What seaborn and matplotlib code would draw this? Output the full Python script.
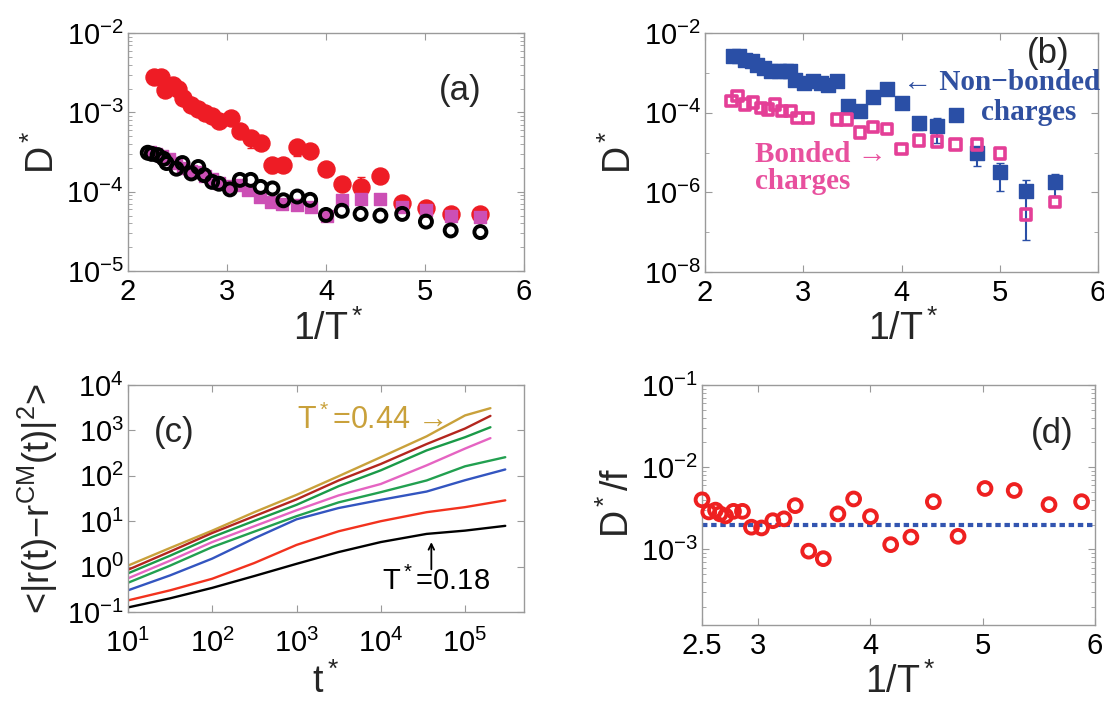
import numpy as np
import pandas as pd
import matplotlib
matplotlib.use("Agg")
import matplotlib.pyplot as plt
import seaborn as sns
from matplotlib.ticker import FixedLocator, NullFormatter, LogFormatterSciNotation, LogLocator

# ---- panel (a): D* vs 1/T* ----
a_x_red = [2.26, 2.33, 2.37, 2.45, 2.51, 2.56, 2.64, 2.71, 2.78, 2.85, 2.92, 3.04, 3.13, 3.24,
           3.34, 3.46, 3.57, 3.71, 3.84, 4.00, 4.16, 4.35, 4.55, 4.77, 5.01, 5.26, 5.56]
a_y_red = [2.8e-3, 2.8e-3, 1.9e-3, 2.2e-3, 1.96e-3, 1.5e-3, 1.24e-3, 1.12e-3, 9.8e-4, 8.9e-4, 7.9e-4,
           8.4e-4, 5.75e-4, 4.7e-4, 4.1e-4, 2.2e-4, 2.2e-4, 3.7e-4, 3.3e-4, 1.95e-4, 1.26e-4, 1.15e-4,
           1.58e-4, 7.2e-5, 6.3e-5, 5.2e-5, 5.2e-5]
a_err_x = [3.13, 3.24, 3.46, 3.57, 3.71, 4.16, 4.35, 5.26]
a_err_y = [5.75e-4, 4.7e-4, 2.2e-4, 2.2e-4, 3.7e-4, 1.26e-4, 1.15e-4, 5.2e-5]
a_err_lo = [4.9e-4, 3.6e-4, 1.7e-4, 1.75e-4, 2.8e-4, 1.05e-4, 1.15e-4, 5.0e-5]
a_err_hi = [5.75e-4, 4.7e-4, 2.2e-4, 2.2e-4, 3.7e-4, 1.26e-4, 1.55e-4, 6.2e-5]

a_x_mag = [2.22, 2.28, 2.34, 2.41, 2.49, 2.56, 2.64, 2.71, 2.78, 2.85, 2.92, 3.03, 3.13, 3.21,
           3.33, 3.44, 3.56, 3.71, 3.85, 4.01, 4.16, 4.35, 4.55, 4.77, 5.01, 5.26, 5.56]
a_y_mag = [3.2e-4, 3.0e-4, 2.8e-4, 2.6e-4, 2.3e-4, 2.0e-4, 1.8e-4, 1.75e-4, 1.6e-4, 1.45e-4, 1.3e-4,
           1.17e-4, 1.2e-4, 1.05e-4, 8.7e-5, 7.4e-5, 7.1e-5, 6.9e-5, 6.5e-5, 4.9e-5, 7.9e-5, 8.1e-5,
           8.1e-5, 6.5e-5, 5.9e-5, 5.0e-5, 4.8e-5]

a_x_blk = [2.20, 2.24, 2.30, 2.36, 2.39, 2.49, 2.55, 2.64, 2.71, 2.77, 2.85, 2.92, 3.03, 3.13,
           3.24, 3.34, 3.46, 3.57, 3.71, 3.84, 4.00, 4.16, 4.35, 4.55, 4.77, 5.01, 5.26, 5.56]
a_y_blk = [3.1e-4, 3.0e-4, 2.9e-4, 2.6e-4, 2.3e-4, 1.95e-4, 2.3e-4, 1.7e-4, 2.05e-4, 1.62e-4, 1.33e-4,
           1.26e-4, 1.07e-4, 1.41e-4, 1.41e-4, 1.15e-4, 1.1e-4, 7.8e-5, 8.7e-5, 7.9e-5, 5.1e-5, 5.75e-5,
           5.25e-5, 5.0e-5, 5.25e-5, 4.2e-5, 3.25e-5, 3.1e-5]

# ---- panel (b): non-bonded vs bonded charges ----
b_x_blue = [2.28, 2.35, 2.41, 2.48, 2.53, 2.60, 2.67, 2.75, 2.82, 2.87, 2.92, 3.01, 3.10, 3.18,
            3.25, 3.34, 3.46, 3.58, 3.71, 3.85, 4.00, 4.18, 4.36, 4.55, 4.77, 5.00, 5.27, 5.56]
b_y_blue = [2.7e-3, 2.6e-3, 2.1e-3, 1.95e-3, 1.6e-3, 1.3e-3, 1.1e-3, 1.1e-3, 1.1e-3, 1.1e-3, 6.8e-4,
            5.6e-4, 6.2e-4, 5.6e-4, 5.1e-4, 6.2e-4, 1.5e-4, 1.1e-4, 2.5e-4, 4.0e-4, 1.8e-4, 5.4e-5,
            4.6e-5, 8.5e-5, 9.5e-6, 3.2e-6, 1.07e-6, 1.8e-6]
b_err_x = [4.18, 4.36, 4.77, 5.00, 5.27, 5.56]
b_err_y = [5.4e-5, 4.6e-5, 9.5e-6, 3.2e-6, 1.07e-6, 1.8e-6]
b_err_lo = [3.6e-5, 1.7e-5, 4.7e-6, 1.07e-6, 6.3e-8, 7.9e-7]
b_err_hi = [5.4e-5, 7.4e-5, 1.1e-5, 5.5e-6, 2.1e-6, 2.95e-6]

b_x_pink = [2.27, 2.33, 2.41, 2.49, 2.57, 2.64, 2.71, 2.78, 2.87, 2.94, 3.05, 3.34, 3.44, 3.58,
            3.71, 3.85, 4.00, 4.18, 4.36, 4.55, 4.77, 5.00, 5.27, 5.56]
b_y_pink = [1.95e-4, 2.6e-4, 1.6e-4, 1.8e-4, 1.3e-4, 1.2e-4, 1.6e-4, 1.1e-4, 1.1e-4, 7.4e-5, 7.4e-5,
            6.8e-5, 6.8e-5, 3.2e-5, 4.4e-5, 3.9e-5, 1.23e-5, 2.0e-5, 1.9e-5, 1.6e-5, 1.6e-5, 9.5e-6,
            2.8e-7, 5.8e-7]

# ---- panel (c): MSD relative to centre of mass ----
c_t = [10, 31.6, 100, 316, 1000, 3160, 1e4, 3.5e4, 1e5]
c_t_end_hot = 2e5
c_t_end_cold = 3e5
msd_gold = [1.05, 2.57, 6.2, 15.8, 38, 98, 257, 741, 2140, 3090]
msd_darkred = [0.85, 2.14, 5.5, 12.9, 30.2, 79, 182, 501, 1100, 2090]
msd_green1 = [0.71, 1.74, 4.47, 10.2, 22.9, 59, 132, 363, 708, 1175]
msd_pink = [0.55, 1.35, 3.47, 7.76, 17.4, 37, 66, 170, 398, 676]
msd_green2 = [0.44, 1.05, 2.69, 5.9, 12.9, 26, 43.6, 79, 162, 257]
msd_blue = [0.30, 0.64, 1.5, 4.2, 11.0, 19.5, 29.5, 45, 80, 138]
msd_red = [0.18, 0.30, 0.54, 1.2, 3.0, 6.0, 10.0, 15.8, 20.4, 28.8]
msd_black = [0.126, 0.20, 0.34, 0.62, 1.15, 2.09, 3.47, 5.25, 6.2, 7.9]

# ---- panel (d): D*/f ----
d_x = [2.50, 2.56, 2.62, 2.66, 2.71, 2.78, 2.86, 2.94, 3.03, 3.13, 3.23, 3.33, 3.45, 3.58, 3.71,
       3.85, 4.00, 4.18, 4.36, 4.56, 4.78, 5.02, 5.28, 5.59, 5.88]
d_y = [4.0e-3, 2.85e-3, 3.0e-3, 2.7e-3, 2.55e-3, 2.9e-3, 2.9e-3, 1.86e-3, 1.82e-3, 2.23e-3, 2.35e-3,
       3.4e-3, 9.5e-4, 7.7e-4, 2.7e-3, 4.1e-3, 2.5e-3, 1.14e-3, 1.41e-3, 3.8e-3, 1.44e-3, 5.5e-3,
       5.2e-3, 3.5e-3, 3.8e-3]
d_fit = 2.0e-3

sns.set_style("ticks")
plt.rcParams['font.family'] = ['Liberation Sans', 'DejaVu Sans']
plt.rcParams['mathtext.fontset'] = 'custom'
plt.rcParams['mathtext.rm'] = 'Liberation Sans'
plt.rcParams['mathtext.it'] = 'Liberation Sans:italic'
plt.rcParams['mathtext.bf'] = 'Liberation Sans:bold'

RED = '#ee1c25'
MAG = '#cc4fb5'
BLUE = '#2a4fa6'
PINK = '#e43f97'
SERIF = ['Liberation Serif', 'DejaVu Serif']
LABEL_FS = 27
TICK_FS = 21

fig = plt.figure(figsize=(11.04, 7.04), dpi=100)
ax_a = fig.add_axes([0.1159, 0.615, 0.3587, 0.338])
ax_b = fig.add_axes([0.6386, 0.6136, 0.356, 0.3395])
ax_c = fig.add_axes([0.1159, 0.1307, 0.3587, 0.3224])
ax_d = fig.add_axes([0.6359, 0.1122, 0.356, 0.341])


def style(ax):
    for s in ax.spines.values():
        s.set_color('#9a9a9a')
        s.set_linewidth(1.0)
    ax.tick_params(which='both', direction='in', top=True, right=True, color='#9a9a9a',
                   labelsize=TICK_FS, labelcolor='black')
    ax.tick_params(axis='y', which='both', pad=3)
    ax.tick_params(axis='x', which='both', pad=5)
    ax.tick_params(which='major', length=5)
    ax.tick_params(which='minor', length=3)


# (a)
ax = ax_a
ax.set_yscale('log')
ax.errorbar(a_err_x, a_err_y, yerr=[np.array(a_err_y) - np.array(a_err_lo),
                                    np.array(a_err_hi) - np.array(a_err_y)],
            fmt='none', ecolor=RED, elinewidth=1.5, capsize=3, zorder=2)
sns.scatterplot(x=a_x_red, y=a_y_red, ax=ax, marker='o', s=150, color=RED, edgecolor=RED,
                linewidth=1, zorder=3)
sns.scatterplot(x=a_x_mag, y=a_y_mag, ax=ax, marker='s', s=80, color=MAG, edgecolor=MAG,
                linewidth=1, zorder=4)
sns.scatterplot(x=a_x_blk, y=a_y_blk, ax=ax, marker='o', s=75, facecolor='none',
                edgecolor='black', linewidth=2.8, zorder=5)
ax.set_xlim(2, 6)
ax.set_ylim(1e-5, 1e-2)
ax.set_xticks([2, 3, 4, 5, 6])
ax.text(0.84, 0.76, '(a)', transform=ax.transAxes, fontsize=25, ha='center', va='center')
ax.set_ylabel('D$^*$', fontsize=LABEL_FS)
ax.set_xlabel('1/T$^*$', fontsize=LABEL_FS)

# (b)
ax = ax_b
ax.set_yscale('log')
ax.errorbar(b_err_x, b_err_y, yerr=[np.array(b_err_y) - np.array(b_err_lo),
                                    np.array(b_err_hi) - np.array(b_err_y)],
            fmt='none', ecolor=BLUE, elinewidth=1.5, capsize=3, zorder=2)
sns.scatterplot(x=b_x_blue, y=b_y_blue, ax=ax, marker='s', s=115, color=BLUE, edgecolor=BLUE,
                linewidth=1, zorder=3)
sns.scatterplot(x=b_x_pink, y=b_y_pink, ax=ax, marker='s', s=55, facecolor='none',
                edgecolor=PINK, linewidth=2.6, zorder=4)
ax.set_xlim(2, 6)
ax.set_ylim(1e-8, 1e-2)
ax.set_xticks([2, 3, 4, 5, 6])
ax.yaxis.set_major_locator(FixedLocator([1e-8, 1e-6, 1e-4, 1e-2]))
ax.yaxis.set_major_formatter(LogFormatterSciNotation())
ax.yaxis.set_minor_locator(FixedLocator([1e-7, 1e-5, 1e-3]))
ax.yaxis.set_minor_formatter(NullFormatter())
ax.text(0.873, 0.916, '(b)', transform=ax.transAxes, fontsize=25, ha='center', va='center')
ax.text(4.02, 10 ** -3.25, '\u2190 Non\u2212bonded', color='#3050a0', fontsize=21,
        fontweight='bold', family=SERIF, ha='left', va='center', clip_on=False)
ax.text(4.81, 10 ** -4.0, 'charges', color='#3050a0', fontsize=21,
        fontweight='bold', family=SERIF, ha='left', va='center', clip_on=False)
ax.text(2.51, 10 ** -5.05, 'Bonded \u2192', color='#e8509e', fontsize=21,
        fontweight='bold', family=SERIF, ha='left', va='center')
ax.text(2.51, 10 ** -5.74, 'charges', color='#e8509e', fontsize=21,
        fontweight='bold', family=SERIF, ha='left', va='center')
ax.set_ylabel('D$^*$', fontsize=LABEL_FS)
ax.set_xlabel('1/T$^*$', fontsize=LABEL_FS)

# (c)
ax = ax_c
ax.set_xscale('log')
ax.set_yscale('log')
hot = [('#c9a13b', msd_gold), ('#b3261e', msd_darkred), ('#1a9a48', msd_green1),
       ('#e564c2', msd_pink)]
cold = [('#22a050', msd_green2), ('#3355c0', msd_blue), ('#f2321e', msd_red), ('black', msd_black)]
for col, vals in hot:
    sns.lineplot(x=c_t + [c_t_end_hot], y=vals, ax=ax, color=col, linewidth=1.7, sort=False)
for col, vals in cold:
    sns.lineplot(x=c_t + [c_t_end_cold], y=vals, ax=ax, color=col, linewidth=1.7, sort=False)
ax.set_xlim(10, 5e5)
ax.set_ylim(0.1, 1e4)
ax.xaxis.set_major_locator(LogLocator(base=10, numticks=10))
ax.yaxis.set_major_locator(LogLocator(base=10, numticks=10))
ax.text(0.116, 0.79, '(c)', transform=ax.transAxes, fontsize=25, ha='center', va='center')
ax.text(10 ** 3.01, 10 ** 3.22, 'T$^*$=0.44 \u2192', color='#c9a13b', fontsize=22,
        ha='left', va='center', family=['Liberation Sans', 'DejaVu Sans'])
ax.text(10 ** 4.01, 10 ** -0.33, 'T$^*$=0.18', color='black', fontsize=21, ha='left', va='center')
ax.annotate('', xy=(10 ** 4.6, 10 ** 0.6), xytext=(10 ** 4.6, 10 ** -0.12),
            arrowprops=dict(arrowstyle='->', lw=1.3, color='black'))
ax.set_ylabel('<|r(t)\u2212r$^{\\mathrm{CM}}$(t)|$^2$>', fontsize=26)
ax.set_xlabel('t$^*$', fontsize=LABEL_FS)

# (d)
ax = ax_d
ax.set_yscale('log')
ax.axhline(d_fit, color='#3355b0', linewidth=3, linestyle=(0, (1.3, 0.9)), zorder=2)
sns.scatterplot(x=d_x, y=d_y, ax=ax, marker='o', s=85, facecolor='none', edgecolor='#ee2020',
                linewidth=2.8, zorder=3, clip_on=False)
ax.set_xlim(2.5, 6)
ax.set_ylim(1.2e-4, 1e-1)
ax.set_xticks([2.5, 3, 4, 5, 6])
ax.set_xticklabels(['2.5', '3', '4', '5', '6'])
ax.yaxis.set_major_locator(FixedLocator([1e-3, 1e-2, 1e-1]))
ax.yaxis.set_major_formatter(LogFormatterSciNotation())
ax.text(0.89, 0.796, '(d)', transform=ax.transAxes, fontsize=25, ha='center', va='center')
ax.set_ylabel('D$^*$/f', fontsize=LABEL_FS)
ax.set_xlabel('1/T$^*$', fontsize=LABEL_FS)

for ax in (ax_a, ax_b, ax_c, ax_d):
    style(ax)
    if ax.get_legend() is not None:
        ax.get_legend().remove()
ax_c.tick_params(axis='x', which='both', pad=12)

ax_a.yaxis.set_label_coords(-0.166, 0.5)
ax_b.yaxis.set_label_coords(-0.168, 0.5)
ax_c.yaxis.set_label_coords(-0.172, 0.5)
ax_d.yaxis.set_label_coords(-0.165, 0.51)
ax_a.xaxis.set_label_coords(0.505, -0.164)
ax_b.xaxis.set_label_coords(0.504, -0.16)
ax_c.xaxis.set_label_coords(0.5, -0.225)
ax_d.xaxis.set_label_coords(0.506, -0.16)

fig.savefig('out.png', dpi=100)
